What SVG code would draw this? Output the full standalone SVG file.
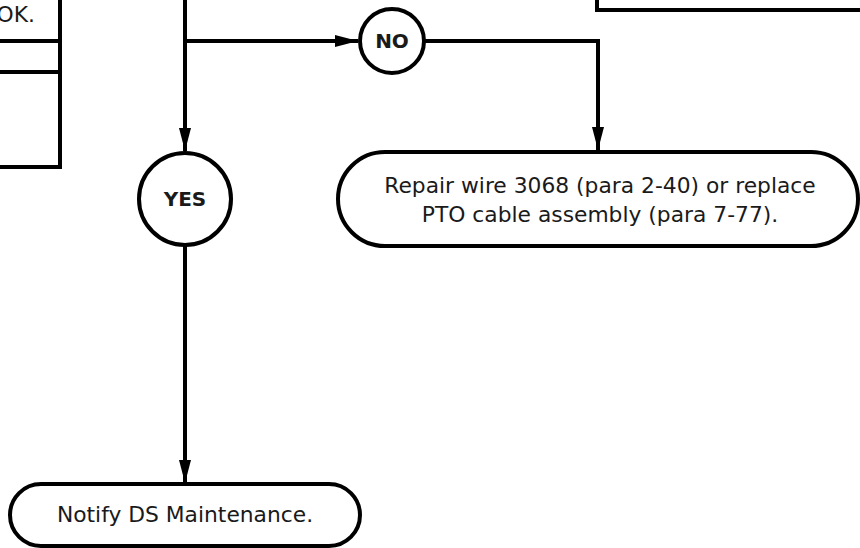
<svg xmlns="http://www.w3.org/2000/svg" width="860" height="548" viewBox="0 0 860 548">
<defs>
<style>
.box{fill:#fff;stroke:#000;stroke-width:4}
.ln{fill:none;stroke:#000;stroke-width:4}
.t{font-family:"DejaVu Sans",Verdana,sans-serif;font-size:21.8px;fill:#1a1a1a;text-anchor:middle}
.b{font-family:"DejaVu Sans",Verdana,sans-serif;font-size:20px;font-weight:bold;fill:#1a1a1a;text-anchor:middle}
</style>
<marker id="ah" markerUnits="userSpaceOnUse" markerWidth="24" markerHeight="14" viewBox="0 0 24 14" refX="23" refY="7" orient="auto">
<path d="M0,1 L23,7 L0,13 Z" fill="#000"/>
</marker>
</defs>
<g id="box-ok">
<rect class="box" x="-10" y="-10" width="70" height="177"/>
<line class="ln" x1="-10" y1="41" x2="60" y2="41"/>
<line class="ln" x1="-10" y1="72" x2="60" y2="72"/>
<text class="t" x="35" y="22" style="text-anchor:end">OK.</text>
</g>
<g id="box-topright">
<rect class="box" x="597" y="-20" width="280" height="30"/>
</g>
<g id="connectors">
<line class="ln" x1="185" y1="-5" x2="185" y2="151" marker-end="url(#ah)"/>
<line class="ln" x1="185" y1="41" x2="358" y2="41" marker-end="url(#ah)"/>
<polyline class="ln" points="424,41 598,41 598,150" marker-end="url(#ah)"/>
<line class="ln" x1="185" y1="245" x2="185" y2="483" marker-end="url(#ah)"/>
</g>
<g id="no">
<circle class="box" cx="392" cy="41" r="32"/>
<text class="b" x="392" y="48">NO</text>
</g>
<g id="yes">
<circle class="box" cx="185" cy="199" r="46"/>
<text class="b" x="185" y="206">YES</text>
</g>
<g id="repair">
<rect class="box" x="338" y="152" width="520" height="94" rx="47" ry="47"/>
<text class="t" x="600" y="193">Repair wire 3068 (para 2-40) or replace</text>
<text class="t" x="600" y="222">PTO cable assembly (para 7-77).</text>
</g>
<g id="notify">
<rect class="box" x="10" y="484" width="350" height="62" rx="31" ry="31"/>
<text class="t" x="185" y="522">Notify DS Maintenance.</text>
</g>
</svg>
